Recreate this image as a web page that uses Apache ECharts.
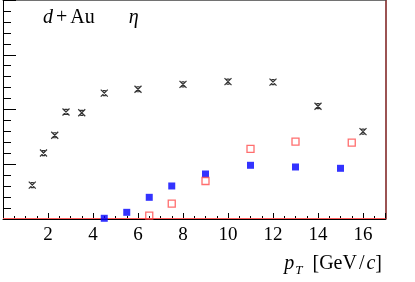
<!DOCTYPE html>
<html><head><meta charset="utf-8">
<script src="https://cdn.jsdelivr.net/npm/echarts@6/dist/echarts.min.js"></script>
<style>html,body{margin:0;padding:0;background:#fff}#c{width:415px;height:282px}</style>
</head><body><div id="c"></div>
<script>
// Black crosses (with caps)
const blackX = [1.3, 1.8, 2.3, 2.8, 3.5, 4.5, 6, 8, 10, 12, 14, 16];
const blackY = [0.62, 1.205, 1.53, 1.955, 1.94, 2.30, 2.37, 2.46, 2.51, 2.50, 2.06, 1.595];
// Blue filled squares
const blueX = [4.5, 5.5, 6.5, 7.5, 9, 11, 13, 15];
const blueY = [0.013, 0.122, 0.396, 0.603, 0.822, 0.981, 0.95, 0.926];
// Red open squares
const redX = [6.5, 7.5, 9, 11, 13, 15.5];
const redY = [0.06, 0.279, 0.694, 1.279, 1.412, 1.394];
const xTicks = [2, 4, 6, 8, 10, 12, 14, 16];

const zip = (a, b) => a.map((v, i) => [v, b[i]]);
const serif2 = 'Liberation Serif';
const chart = echarts.init(document.getElementById('c'));
chart.setOption({
  animation: false,
  textStyle: { fontFamily: serif2 },
  grid: { left: -3, right: 415 - 385.5, top: 0, bottom: 63, containLabel: false },
  title: [
    { left: 38, top: 3, text: '{i|d}{p|+}{r|Au}{s|}{i|η}',
      textStyle: { fontWeight: 'normal', rich: {
        i: { fontFamily: serif2, fontStyle: 'italic', fontWeight: 'normal', fontSize: 20, color: '#000' },
        p: { fontFamily: serif2, fontWeight: 'normal', fontSize: 20, color: '#000', padding: [0, 3, 0, 3] },
        r: { fontFamily: serif2, fontWeight: 'normal', fontSize: 20, color: '#000' },
        s: { width: 34, height: 10 }
      } } },
    { right: 28, top: 246, text: '{i|p}{sub|T}{s|}{r|[GeV}{r2|/}{i|c}{r|]}',
      textStyle: { fontWeight: 'normal', rich: {
        i: { fontFamily: serif2, fontStyle: 'italic', fontWeight: 'normal', fontSize: 20, color: '#000' },
        sub: { fontFamily: serif2, fontStyle: 'italic', fontWeight: 'normal', fontSize: 13, color: '#000', verticalAlign: 'bottom', padding: [13, 0, 0, 1] },
        s: { width: 10, height: 10 },
        r: { fontFamily: serif2, fontWeight: 'normal', fontSize: 20, color: '#000' },
        r2: { fontFamily: serif2, fontWeight: 'normal', fontSize: 20, color: '#000', padding: [0, 2, 0, 2] }
      } } }
  ],
  xAxis: [
    { type: 'value', min: 0, max: 17, interval: 2,
      axisLine: { show: true, onZero: false, lineStyle: { color: '#000', width: 1 } },
      axisTick: { show: true, inside: true, length: 6, lineStyle: { color: '#000' } },
      minorTick: { show: true, splitNumber: 4, length: 3, lineStyle: { color: '#000' } },
      splitLine: { show: false },
      axisLabel: { margin: 7, fontFamily: serif2, fontSize: 19, color: '#000',
        rich: { n: { fontFamily: serif2, fontSize: 19, color: '#000' } },
        formatter: v => xTicks.includes(v) ? '{n|' + v + '}' : '' } },
    { type: 'value', min: 0, max: 17, position: 'top',
      axisLine: { show: true, onZero: false, lineStyle: { color: '#444', width: 1.5 } },
      axisTick: { show: false }, axisLabel: { show: false }, splitLine: { show: false } }
  ],
  yAxis: [
    { type: 'value', min: 0, max: 4, interval: 1,
      axisLine: { show: true, onZero: false, lineStyle: { color: '#000' } },
      axisTick: { show: true, inside: true, length: 13, lineStyle: { color: '#000' } },
      minorTick: { show: true, splitNumber: 5, length: 8, lineStyle: { color: '#000' } },
      splitLine: { show: false }, axisLabel: { show: false } },
    { type: 'value', min: 0, max: 4, position: 'right',
      axisLine: { show: true, onZero: false, lineStyle: { color: '#7a1a1a', width: 1.5 } },
      axisTick: { show: false }, axisLabel: { show: false }, splitLine: { show: false } }
  ],
  series: [
    { type: 'scatter', data: zip(blackX, blackY), clip: false, z: 5,
      symbol: 'path://M0,0L7,7M7,0L0,7M2,1L5,1M2,6L5,6', symbolSize: [7, 7],
      itemStyle: { color: 'rgba(0,0,0,0)', borderColor: '#000', borderWidth: 1.2 } ,
      markLine: { silent: true, symbol: 'none', label: { show: false },
        lineStyle: { color: '#ff5a5a', type: 'solid', width: 1 },
        data: [{ yAxis: 0.018 }] } },
    { type: 'scatter', data: zip(blueX, blueY), clip: false, z: 6,
      symbol: 'rect', symbolSize: 7,
      itemStyle: { color: '#0000ff' } },
    { type: 'scatter', data: zip(redX, redY), clip: false, z: 6,
      symbol: 'rect', symbolSize: 7,
      itemStyle: { color: 'rgba(255,255,255,0)', borderColor: '#ff4a4a', borderWidth: 1.3 } }
  ]
});
</script></body></html>
